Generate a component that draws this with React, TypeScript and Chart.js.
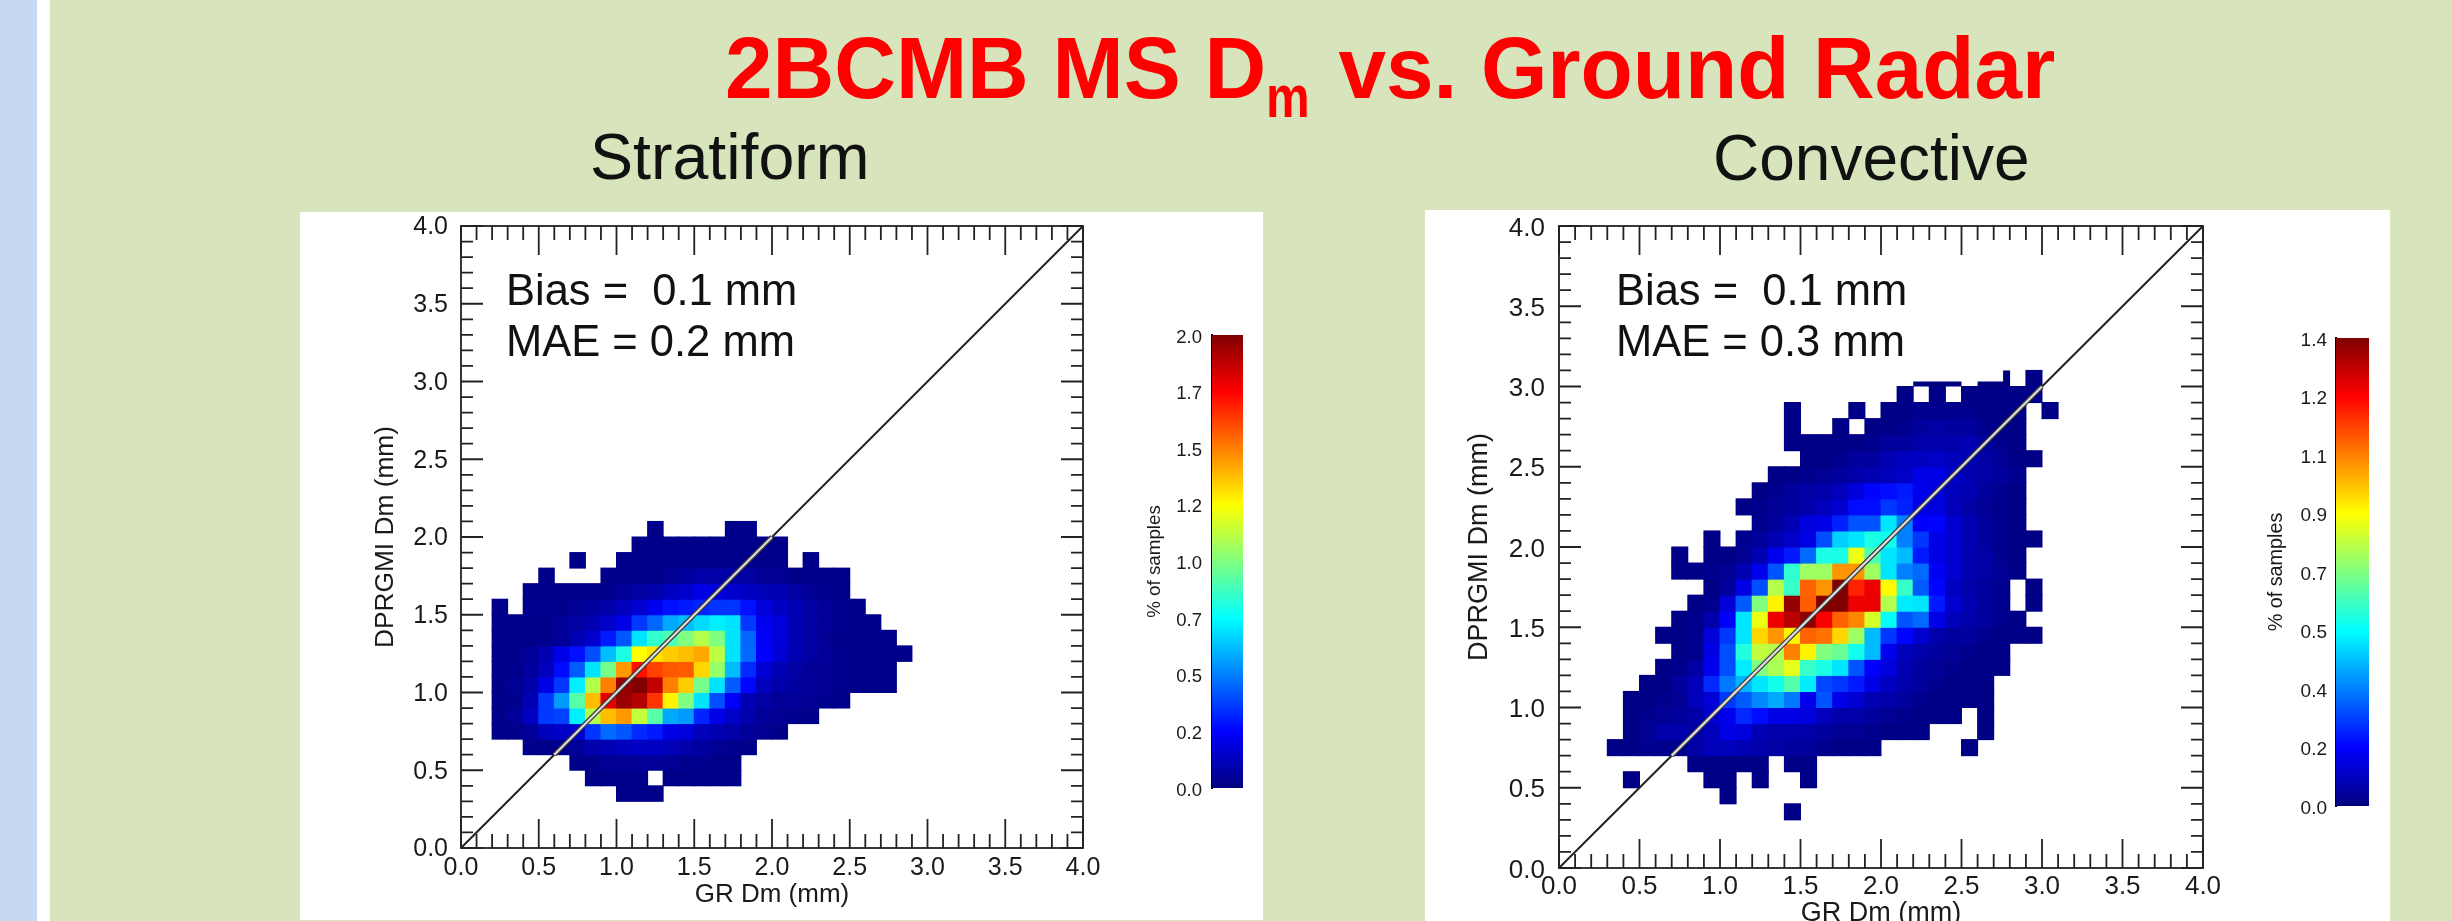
import React, { useEffect, useRef } from "react";
import { Chart, registerables } from "chart.js";

Chart.register(...registerables);

type Row = (number | null)[];
const n = null;

// Each row: first column index (x = col/10 mm), first row index (y = row/10 mm), % of samples per 0.1 mm bin.
const stratiformFirstRow = 3;
const stratiformFirstCol = [10, 8, 7, 4, 2, 2, 2, 2, 2, 2, 2, 2, 2, 4, 5, 7, 11, 12];
const stratiformRows: Row[] = [
  [.02, .02, .02],
  [.02, .02, .02, .02, n, .02, .02, .02, .02, .02],
  [.02, .03, .04, .04, .05, .05, .04, .03, .03, .02, .02],
  [.02, .02, .03, .05, .09, .1, .12, .13, .13, .11, .09, .06, .04, .03, .02],
  [.02, .02, .05, .12, .14, .16, .35, .46, .42, .33, .3, .2, .18, .12, .1, .08, .05, .04, .02],
  [.02, .05, .13, .36, .38, .72, 1.1, 1.38, 1.45, 1.13, .92, .58, .55, .32, .2, .14, .09, .05, .04, .03, .02],
  [.02, .03, .1, .36, .55, .92, 1.38, 1.8, 1.95, 1.9, 1.65, 1.27, 1.0, .7, .4, .24, .1, .07, .05, .05, .04, .03, .02],
  [.02, .04, .08, .2, .36, .72, 1.1, 1.5, 1.95, 2.0, 1.87, 1.5, 1.35, .98, .7, .43, .26, .12, .08, .06, .05, .04, .03, .02, .02, .02],
  [.02, .03, .06, .12, .27, .43, .7, .98, 1.45, 1.72, 1.62, 1.58, 1.57, 1.33, 1.05, .62, .33, .17, .1, .07, .05, .04, .03, .02, .02, .02],
  [.02, .03, .05, .1, .2, .28, .4, .62, .8, 1.25, 1.3, 1.35, 1.38, 1.42, 1.12, .7, .46, .25, .17, .1, .07, .05, .03, .02, .02, .02, .02],
  [.02, .02, .02, .03, .05, .1, .15, .3, .42, .7, .85, .9, 1.0, 1.1, 1.0, .7, .45, .24, .18, .1, .07, .04, .02, .02, .02, .02],
  [.02, .02, .02, .03, .05, .07, .1, .14, .2, .36, .45, .58, .62, .68, .72, .7, .36, .22, .18, .1, .07, .05, .03, .02, .02],
  [.02, n, .03, .03, .03, .04, .06, .08, .12, .16, .22, .28, .3, .32, .35, .35, .28, .18, .13, .1, .07, .05, .03, .02],
  [.02, .02, .02, .02, .02, .03, .05, .07, .08, .13, .15, .2, .18, .15, .13, .11, .1, .07, .05, .03, .02],
  [.02, n, n, n, .02, .02, .02, .03, .04, .06, .08, .08, .08, .07, .05, .04, .02, .02, .02, .02],
  [.02, n, n, .02, .02, .02, .02, .02, .02, .02, .02, .02, .02, .02, n, .02],
  [.02, .02, .02, .02, .02, .02, .02, .02, .02, .02],
  [.02, n, n, n, n, .02, .02],
];

const convectiveFirstRow = 3;
const convectiveFirstCol = [14, 10, 4, 8, 3, 4, 4, 4, 5, 6, 7, 6, 7, 8, 9, 7, 7, 9, 12, 11, 12, 13, 15, 14, 14, 14, 21, 29];
const convectiveRows: Row[] = [
  [.01],
  [.01],
  [.01, n, n, n, n, .01, .01, n, .01, n, n, .01],
  [.01, .01, .01, .01, .01, n, .01, .01],
  [.01, .01, .02, .02, .02, .05, .08, .08, .07, .06, .05, .04, .04, .02, .01, .01, .01, n, n, n, n, n, .01],
  [.01, .03, .06, .06, .05, .08, .14, .13, .07, .06, .06, .06, .04, .03, .03, .02, .01, .01, .01, n, n, n, .01],
  [.01, .02, .03, .04, .05, .11, .15, .23, .19, .14, .14, .13, .08, .06, .06, .04, .03, .02, .01, .01, .01, n, .01],
  [.01, .01, .02, .03, .08, .12, .25, .3, .36, .41, .34, .15, .29, .14, .11, .07, .06, .04, .02, .01, .01, .01, .01],
  [.01, .01, .04, .08, .23, .34, .42, .49, .55, .64, .5, .27, .25, .21, .14, .09, .06, .04, .02, .01, .01, .01],
  [.01, .02, .05, .15, .28, .5, .7, .76, .84, .6, .56, .49, .29, .17, .13, .07, .04, .03, .02, .01, .01, .01],
  [.01, .02, .14, .28, .57, .79, .77, 1.05, .89, .7, .67, .55, .43, .15, .08, .06, .04, .03, .02, .01, .01],
  [.01, .01, .02, .12, .25, .49, .93, 1.02, .89, 1.09, 1.07, .93, .74, .43, .25, .18, .11, .06, .04, .04, .02, .01, .01, .01],
  [.01, .02, .06, .17, .49, .85, 1.25, 1.32, 1.38, 1.23, 1.09, 1.04, .82, .53, .29, .32, .14, .08, .06, .04, .02, .01],
  [.01, .02, .12, .3, .7, .89, 1.37, 1.1, 1.4, 1.4, 1.25, 1.25, .77, .5, .49, .21, .11, .07, .04, .02, n, .01],
  [.01, .04, .14, .28, .77, .6, 1.09, 1.02, 1.4, 1.18, 1.25, .88, .6, .3, .18, .09, .06, .04, .02, n, .01],
  [.01, .01, .02, .03, .07, .15, .29, .59, .74, .74, 1.02, 1.02, .74, .49, .35, .32, .16, .11, .07, .05, .03, .01],
  [.01, n, .01, .01, .03, .07, .15, .21, .32, .56, .56, .85, .63, .49, .43, .21, .14, .11, .07, .05, .02, .01],
  [.01, n, .02, .04, .07, .1, .14, .28, .46, .49, .56, .55, .35, .25, .14, .11, .07, .04, .02, .01, .01],
  [.02, .04, .07, .13, .14, .22, .29, .29, .49, .35, .17, .18, .11, .07, .04, .02, .01],
  [.01, .02, .03, .04, .06, .08, .11, .19, .19, .25, .22, .14, .13, .08, .05, .03, .02, .01],
  [.01, .02, .04, .05, .06, .08, .13, .18, .19, .21, .15, .13, .08, .07, .04, .02, .01],
  [.01, .01, .02, .03, .04, .06, .07, .08, .1, .14, .14, .1, .07, .05, .04, .02],
  [.01, .01, .02, .04, .04, .07, .09, .09, .1, .08, .07, .05, .03, .01, .01],
  [.01, .01, .01, .01, .01, .02, .04, .04, .06, .06, .06, .07, .04, .02, .01],
  [.01, n, n, .01, n, .01, .01, .02, .04, .05, .04, .04, .02, .01, .01],
  [.01, n, n, n, .01, n, .01, .01, .02, .02, .02, .02, .01, .01, .01, n, .01],
  [.01, n, .01, n, .01, .01, .01, .01, .01],
  [.01],
];

// Thin slivers along the top of the convective histogram.
const convectiveTopEdgeA = [{ x: 2.2, y: 3.015 }, { x: 2.5, y: 3.015 }];
const convectiveTopEdgeB = [{ x: 2.6, y: 3.015 }, { x: 2.8, y: 3.015 }];
const convectiveTopStub = [{ x: 2.78, y: 3.0 }, { x: 2.78, y: 3.1 }];

const diagonal = [{ x: 0, y: 0 }, { x: 4, y: 4 }];
const stratiformDiagonalCore = [{ x: 0.6, y: 0.6 }, { x: 2.0, y: 2.0 }];
const convectiveDiagonalCore = [{ x: 0.7, y: 0.7 }, { x: 3.0, y: 3.0 }];

const stratiformBarLabels = ["0.0", "0.2", "0.5", "0.7", "1.0", "1.2", "1.5", "1.7", "2.0"];
const convectiveBarLabels = ["0.0", "0.2", "0.4", "0.5", "0.7", "0.9", "1.1", "1.2", "1.4"];
const stratiformMax = 2.0;
const convectiveMax = 1.4;

const FONT = '"Liberation Sans", Arial, Helvetica, sans-serif';
const TEXT = "#1a1a1a";
const NAVY = "#00007f";

function jet(f: number): string {
  const clamp = (a: number) => Math.max(0, Math.min(1, a));
  const r = clamp(Math.min(4 * f - 1.5, -4 * f + 4.5));
  const g = clamp(Math.min(4 * f - 0.5, -4 * f + 3.5));
  const b = clamp(Math.min(4 * f + 0.5, -4 * f + 2.5));
  return `rgb(${Math.round(r * 255)},${Math.round(g * 255)},${Math.round(b * 255)})`;
}

function cells(rows: Row[], firstCols: number[], firstRow: number) {
  const out: { x: number; y: number; v: number }[] = [];
  rows.forEach((row, ri) => {
    row.forEach((v, ci) => {
      if (v === null) return;
      out.push({ x: (firstCols[ri] + ci + 0.5) / 10, y: (firstRow + ri + 0.5) / 10, v });
    });
  });
  return out;
}

const idlTicks = (xMajor: number, xMinor: number, yMajor: number, yMinor: number) => ({
  id: "idlTicks",
  afterDatasetsDraw(chart: any) {
    const { ctx, chartArea: a, scales } = chart;
    ctx.save();
    ctx.strokeStyle = "#222";
    ctx.lineWidth = 1.8;
    ctx.strokeRect(a.left, a.top, a.right - a.left, a.bottom - a.top);
    ctx.beginPath();
    scales.x.ticks.forEach((t: any) => {
      const p = scales.x.getPixelForValue(t.value);
      const len = t.label ? xMajor : xMinor;
      ctx.moveTo(p, a.bottom);
      ctx.lineTo(p, a.bottom - len);
      ctx.moveTo(p, a.top);
      ctx.lineTo(p, a.top + len);
    });
    scales.y.ticks.forEach((t: any) => {
      const p = scales.y.getPixelForValue(t.value);
      const len = t.label ? yMajor : yMinor;
      ctx.moveTo(a.left, p);
      ctx.lineTo(a.left + len, p);
      ctx.moveTo(a.right, p);
      ctx.lineTo(a.right - len, p);
    });
    ctx.stroke();
    ctx.restore();
  },
});

function fixedAxis(size: number, horizontal: boolean) {
  return (scale: any) => {
    if (horizontal) scale.height = size;
    else scale.width = size;
    scale.paddingLeft = scale.paddingRight = scale.paddingTop = scale.paddingBottom = 0;
  };
}

const tenthLabel = (v: number | string) => {
  const t = Math.round(Number(v) * 10);
  return t % 5 === 0 ? (t / 10).toFixed(1) : "";
};

interface HeatProps {
  rows: Row[];
  firstCols: number[];
  firstRow: number;
  max: number;
  core: { x: number; y: number }[];
  extras?: { x: number; y: number }[][];
  extraWidths?: number[];
  box: { left: number; top: number; width: number; height: number };
  area: { left: number; top: number; right: number; bottom: number };
  fontSize: number;
  xTitleSize: number;
  yTitleSize: number;
  yTitleCentre: number;
  xTitleCentre: number;
  xPad: number;
  yPad: number;
  yLabelShift: number;
}

function Heat(p: HeatProps) {
  const ref = useRef<HTMLCanvasElement>(null);
  useEffect(() => {
    const pts = cells(p.rows, p.firstCols, p.firstRow);
    const font = { family: FONT, size: p.fontSize };
    const xFont = { family: FONT, size: p.xTitleSize };
    const yFont = { family: FONT, size: p.yTitleSize };
    const padLeft = p.yTitleCentre - (p.yTitleSize * 1.2) / 2;
    const padBottom = p.box.height - (p.xTitleCentre + (p.xTitleSize * 1.2) / 2);
    const line = (data: any, color: string, w: number) => ({
      type: "scatter" as const,
      data,
      showLine: true,
      borderColor: color,
      borderWidth: w,
      pointRadius: 0,
      borderCapStyle: "butt",
    });
    const extras = (p.extras || []).map((d, i) => line(d, NAVY, (p.extraWidths || [])[i] || 5));
    const chart = new Chart(ref.current as HTMLCanvasElement, {
      type: "scatter",
      data: {
        datasets: [
          line(p.core, "#dcdcdc", 2.2),
          line(p.core, "#3a3a3a", 4.6),
          line(diagonal, "#222", 2),
          ...extras,
          {
            data: pts,
            pointStyle: "rect",
            pointRadius: (c: any) => ((c.chart.chartArea ? c.chart.chartArea.width / 40 : 15) + 1) / Math.SQRT2,
            pointHoverRadius: 0,
            borderWidth: 0,
            pointBorderWidth: 0,
            pointBackgroundColor: pts.map((c) => jet(c.v / p.max)),
          },
        ] as any,
      },
      options: {
        animation: false,
        responsive: false,
        events: [],
        layout: {
          padding: {
            left: padLeft,
            top: p.area.top,
            right: p.box.width - p.area.right,
            bottom: padBottom,
          },
        },
        plugins: { legend: { display: false }, tooltip: { enabled: false } },
        scales: {
          x: {
            type: "linear",
            min: 0,
            max: 4,
            grid: { display: false, drawTicks: false },
            border: { display: false },
            ticks: { stepSize: 0.1, autoSkip: false, maxRotation: 0, padding: p.xPad, color: TEXT, font, callback: tenthLabel },
            title: { display: true, text: "GR Dm (mm)", color: TEXT, font: xFont, padding: 0 },
            afterFit: fixedAxis(p.box.height - padBottom - p.area.bottom, true),
          },
          y: {
            type: "linear",
            min: 0,
            max: 4,
            grid: { display: false, drawTicks: false },
            border: { display: false },
            ticks: { stepSize: 0.1, autoSkip: false, padding: p.yPad, labelOffset: p.yLabelShift, color: TEXT, font, callback: tenthLabel },
            title: { display: true, text: "DPRGMI Dm (mm)", color: TEXT, font: yFont, padding: 0 },
            afterFit: fixedAxis(p.area.left - padLeft, false),
          },
        },
      } as any,
      plugins: [idlTicks(29, 14, 22, 12)],
    });
    return () => chart.destroy();
  }, []);
  return (
    <canvas
      ref={ref}
      width={p.box.width}
      height={p.box.height}
      style={{
        position: "absolute",
        left: p.box.left,
        top: p.box.top,
        width: p.box.width,
        height: p.box.height,
        background: "#fff",
        filter: "blur(0.6px)",
      }}
    />
  );
}

interface BarProps {
  labels: string[];
  max: number;
  box: { left: number; top: number; width: number; height: number };
  area: { left: number; top: number; right: number; bottom: number };
  fontSize: number;
  titleSize: number;
  titleCentre: number;
  pad: number;
}

function ColorBar(p: BarProps) {
  const ref = useRef<HTMLCanvasElement>(null);
  useEffect(() => {
    const font = { family: FONT, size: p.fontSize };
    const padLeft = p.titleCentre - (p.titleSize * 1.2) / 2;
    const step = p.max / (p.labels.length - 1);
    const chart = new Chart(ref.current as HTMLCanvasElement, {
      type: "bar",
      data: {
        labels: ["% of samples"],
        datasets: [
          {
            data: [[0, p.max]],
            barPercentage: 1,
            categoryPercentage: 1,
            backgroundColor: (c: any) => {
              const a = c.chart.chartArea;
              if (!a) return NAVY;
              const g = c.chart.ctx.createLinearGradient(0, a.bottom, 0, a.top);
              for (let i = 0; i <= 64; i++) g.addColorStop(i / 64, jet(i / 64));
              return g;
            },
          },
        ] as any,
      },
      options: {
        animation: false,
        responsive: false,
        events: [],
        layout: {
          padding: {
            left: padLeft,
            top: p.area.top,
            right: p.box.width - p.area.right,
            bottom: p.box.height - p.area.bottom,
          },
        },
        plugins: { legend: { display: false }, tooltip: { enabled: false } },
        scales: {
          x: { display: false, type: "category" },
          y: {
            type: "linear",
            min: 0,
            max: p.max,
            grid: { display: false, drawTicks: false },
            border: { display: true, color: "#000", width: 2 },
            ticks: {
              stepSize: step,
              autoSkip: false,
              padding: p.pad,
              labelOffset: 2.5,
              color: TEXT,
              font,
              callback: (v: any) => p.labels[Math.round(Number(v) / step)],
            },
            title: { display: true, text: "% of samples", color: TEXT, font: { family: FONT, size: p.titleSize }, padding: 0 },
            afterFit: fixedAxis(p.area.left - padLeft, false),
          },
        },
      } as any,
    });
    return () => chart.destroy();
  }, []);
  return (
    <canvas
      ref={ref}
      width={p.box.width}
      height={p.box.height}
      style={{ position: "absolute", left: p.box.left, top: p.box.top, width: p.box.width, height: p.box.height, filter: "blur(0.5px)" }}
    />
  );
}

function Label(props: { x: number; base: number; size: number; color?: string; bold?: boolean; squeeze?: number; children: React.ReactNode }) {
  return (
    <div
      style={{
        position: "absolute",
        left: props.x,
        top: props.base - 0.8465 * props.size,
        fontFamily: FONT,
        fontSize: props.size,
        lineHeight: 1,
        fontWeight: props.bold ? 700 : 400,
        color: props.color || "#111",
        whiteSpace: "pre",
        transform: props.squeeze ? `scaleX(${props.squeeze})` : undefined,
        transformOrigin: "left top",
        filter: "blur(0.4px)",
      }}
    >
      {props.children}
    </div>
  );
}

export default function App() {
  return (
    <div style={{ position: "absolute", left: 0, top: 0, width: 2452, height: 921, overflow: "hidden", background: "#d8e4bc" }}>
      <div style={{ position: "absolute", left: 0, top: 0, width: 37, height: 921, background: "#c6d9f1" }} />
      <div style={{ position: "absolute", left: 37, top: 0, width: 13, height: 921, background: "#fff" }} />
      <Heat
        rows={stratiformRows}
        firstCols={stratiformFirstCol}
        firstRow={stratiformFirstRow}
        max={stratiformMax}
        core={stratiformDiagonalCore}
        box={{ left: 300, top: 212, width: 963, height: 708 }}
        area={{ left: 161, top: 14, right: 783, bottom: 636 }}
        fontSize={25}
        xTitleSize={26}
        yTitleSize={26.3}
        yTitleCentre={86}
        xTitleCentre={683}
        xPad={5}
        yPad={13}
        yLabelShift={1.5}
      />
      <Heat
        rows={convectiveRows}
        firstCols={convectiveFirstCol}
        firstRow={convectiveFirstRow}
        max={convectiveMax}
        core={convectiveDiagonalCore}
        extras={[convectiveTopEdgeA, convectiveTopEdgeB, convectiveTopStub]}
        extraWidths={[5, 5, 7]}
        box={{ left: 1425, top: 210, width: 965, height: 730 }}
        area={{ left: 134, top: 16, right: 778, bottom: 658 }}
        fontSize={26}
        xTitleSize={27}
        yTitleSize={27}
        yTitleCentre={55}
        xTitleCentre={703.5}
        xPad={3.4}
        yPad={14}
        yLabelShift={2.5}
      />
      <ColorBar
        labels={stratiformBarLabels}
        max={stratiformMax}
        box={{ left: 1130, top: 315, width: 130, height: 495 }}
        area={{ left: 82, top: 20, right: 113, bottom: 473 }}
        fontSize={18.5}
        titleSize={18.8}
        titleCentre={25}
        pad={10}
      />
      <ColorBar
        labels={convectiveBarLabels}
        max={convectiveMax}
        box={{ left: 2250, top: 318, width: 135, height: 508 }}
        area={{ left: 86, top: 20, right: 119, bottom: 488 }}
        fontSize={19}
        titleSize={19.8}
        titleCentre={27}
        pad={9}
      />
      <Label x={725} base={98} size={87} color="#ff0000" bold squeeze={0.982}>
        2BCMB MS D
        <span style={{ display: "inline-block", fontSize: 50, position: "relative", top: 20, transform: "scaleY(1.18)", transformOrigin: "left bottom", marginRight: 5 }}>m</span>
        {" vs. Ground Radar"}
      </Label>
      <Label x={590} base={180} size={64.5}>Stratiform</Label>
      <Label x={1713} base={180} size={64}>Convective</Label>
      <Label x={506} base={306} size={43.5}>{"Bias =  0.1 mm"}</Label>
      <Label x={506} base={357} size={43.5}>MAE = 0.2 mm</Label>
      <Label x={1616} base={306} size={43.5}>{"Bias =  0.1 mm"}</Label>
      <Label x={1616} base={357} size={43.5}>MAE = 0.3 mm</Label>
    </div>
  );
}
